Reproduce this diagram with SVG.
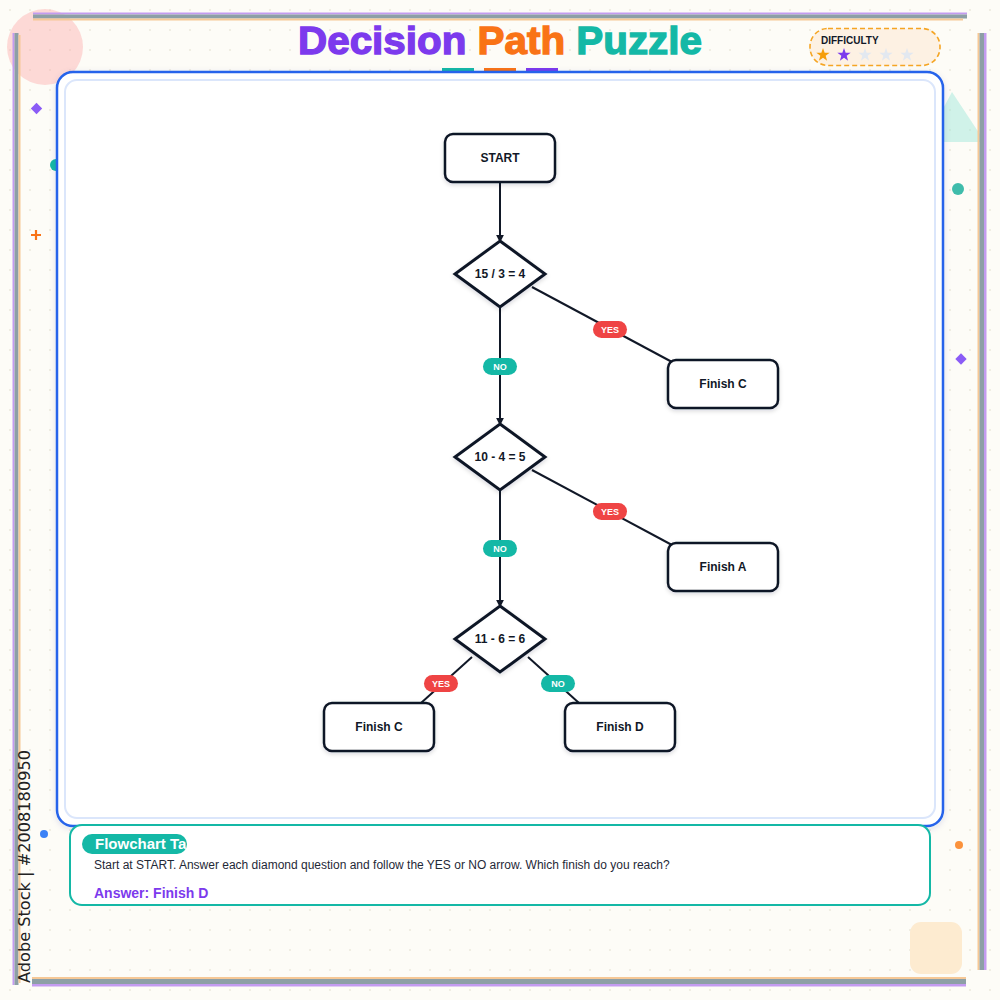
<svg xmlns="http://www.w3.org/2000/svg" width="1000" height="1000" viewBox="0 0 1000 1000">
  <defs>
    <pattern id="dots" width="20" height="20" patternUnits="userSpaceOnUse">
      <circle cx="10" cy="10" r="0.9" fill="#ebe7da"/>
    </pattern>
    <filter id="shadow" x="-20%" y="-20%" width="140%" height="150%">
      <feDropShadow dx="0" dy="2" stdDeviation="2" flood-color="#0f172a" flood-opacity="0.15"/>
    </filter>
    <filter id="panelShadow" x="-5%" y="-5%" width="110%" height="110%">
      <feDropShadow dx="0" dy="2" stdDeviation="3" flood-color="#1e3a8a" flood-opacity="0.12"/>
    </filter>
    <marker id="arrow" viewBox="0 0 10 10" refX="9" refY="5" markerWidth="4" markerHeight="4" orient="auto" markerUnits="strokeWidth">
      <path d="M0,0 L10,5 L0,10 Z" fill="#111827"/>
    </marker>
    <path id="star" d="M0,-7 L1.65,-2.27 L6.66,-2.16 L2.66,0.87 L4.11,5.66 L0,2.8 L-4.11,5.66 L-2.66,0.87 L-6.66,-2.16 L-1.65,-2.27 Z"/>
    <clipPath id="tabClip"><rect x="82" y="834" width="105" height="20" rx="10"/></clipPath>
    <style>
      .node rect, .node polygon { fill: #ffffff; stroke: #111827; }
      .box { stroke-width: 2.5; }
      .dia { stroke-width: 3; stroke-linejoin: miter; }
      .ntext { font-family: "Liberation Sans", Arial, sans-serif; font-weight: bold; font-size: 12px; fill: #111827; text-anchor: middle; dominant-baseline: central; }
      .conn line { stroke: #111827; stroke-width: 2; }
      .pill-text { font-family: "Liberation Sans", Arial, sans-serif; font-weight: bold; font-size: 9px; fill: #ffffff; text-anchor: middle; dominant-baseline: central; }
      .yes { fill: #ef4444; }
      .no { fill: #14b8a6; }
      .sans { font-family: "Liberation Sans", Arial, sans-serif; }
    </style>
  </defs>

  <!-- background -->
  <rect x="0" y="0" width="1000" height="1000" fill="#fdfcf7"/>
  <rect x="0" y="0" width="1000" height="1000" fill="url(#dots)"/>

  <!-- decorations -->
  <g id="decorations">
    <circle cx="45" cy="47" r="38" fill="#fca5a5" opacity="0.4"/>
    <polygon points="952,92 985,142 925,142" fill="#99e6d8" opacity="0.45"/>
    <rect x="32.5" y="104.5" width="8" height="8" fill="#8b5cf6" transform="rotate(45 36.5 108.5)"/>
    <circle cx="56" cy="165" r="6" fill="#14b8a6"/>
    <path d="M31,235 H41 M36,230 V240" stroke="#f97316" stroke-width="2.2"/>
    <circle cx="958" cy="189" r="6" fill="#2ab5a2" opacity="0.9"/>
    <rect x="957" y="355" width="8" height="8" fill="#8b5cf6" transform="rotate(45 961 359)"/>
    <circle cx="44" cy="834" r="4" fill="#3b82f6"/>
    <circle cx="959" cy="845" r="4" fill="#fb923c"/>
    <rect x="910" y="922" width="52" height="52" rx="11" fill="#fdebd0"/>
  </g>

  <!-- frame -->
  <g id="frame">
    <rect x="33" y="12.5" width="934" height="2" fill="#c39bf0"/>
    <rect x="33" y="14.5" width="934" height="4" fill="#8d9fa6"/>
    <rect x="33" y="18.5" width="930" height="2" fill="#f6c896"/>
    <rect x="12.5" y="33" width="2" height="952" fill="#c39bf0"/>
    <rect x="14.5" y="33" width="4" height="952" fill="#8d9fa6"/>
    <rect x="18.5" y="35" width="2" height="948" fill="#f6c896"/>
    <rect x="977.5" y="33" width="2" height="937" fill="#f6c896"/>
    <rect x="979.5" y="33" width="4.5" height="937" fill="#8d9fa6"/>
    <rect x="984" y="33" width="2.5" height="937" fill="#c39bf0"/>
    <rect x="32" y="977" width="934" height="2" fill="#f6c896"/>
    <rect x="32" y="979" width="934" height="5" fill="#8d9fa6"/>
    <rect x="32" y="984" width="934" height="2.5" fill="#c39bf0"/>
  </g>

  <!-- title -->
  <g id="title">
    <rect x="442" y="68" width="32" height="4" fill="#14b8a6"/>
    <rect x="484" y="68" width="32" height="4" fill="#f97316"/>
    <rect x="526" y="68" width="32" height="4" fill="#7c3aed"/>
    <text x="500" y="54" text-anchor="middle" class="sans" font-weight="bold" font-size="38" stroke-width="1.3" textLength="404" lengthAdjust="spacingAndGlyphs"><tspan fill="#7c3aed" stroke="#7c3aed">Decision</tspan> <tspan fill="#f97316" stroke="#f97316">Path</tspan> <tspan fill="#14b8a6" stroke="#14b8a6">Puzzle</tspan></text>
  </g>

  <!-- difficulty -->
  <g id="difficulty">
    <rect x="810" y="28.5" width="130" height="37" rx="18" fill="#fdf1e3" stroke="#f5a524" stroke-width="1.6" stroke-dasharray="5 3"/>
    <text x="821" y="44" class="sans" font-weight="bold" font-size="10" fill="#111827">DIFFICULTY</text>
    <use href="#star" x="823" y="55" fill="#f59e0b"/>
    <use href="#star" x="844" y="55" fill="#7c3aed"/>
    <use href="#star" x="865" y="55" fill="#e2e8f0"/>
    <use href="#star" x="886" y="55" fill="#e2e8f0"/>
    <use href="#star" x="907" y="55" fill="#e2e8f0"/>
  </g>

  <!-- main panel -->
  <g id="panel">
    <rect x="57" y="72" width="886" height="754" rx="16" fill="#ffffff" stroke="#2563eb" stroke-width="2.5" filter="url(#panelShadow)"/>
    <rect x="65" y="80" width="870" height="738" rx="12" fill="#ffffff" stroke="#dbe6fb" stroke-width="2"/>
  </g>

  <!-- connectors -->
  <g id="connectors" class="conn">
    <line x1="500" y1="183" x2="500" y2="242" marker-end="url(#arrow)"/>
    <line x1="532" y1="287" x2="672" y2="362"/>
    <line x1="500" y1="307" x2="500" y2="425" marker-end="url(#arrow)"/>
    <line x1="532" y1="470" x2="672" y2="545"/>
    <line x1="500" y1="490" x2="500" y2="607" marker-end="url(#arrow)"/>
    <line x1="472" y1="657" x2="421" y2="703"/>
    <line x1="528" y1="657" x2="579" y2="703"/>
  </g>

  <!-- nodes -->
  <g id="node-start" class="node">
    <rect class="box" x="445" y="134" width="110" height="48" rx="8" filter="url(#shadow)"/>
    <text class="ntext" x="500" y="158">START</text>
  </g>
  <g id="node-q1" class="node">
    <polygon class="dia" points="500,241 545,274 500,307 455,274" filter="url(#shadow)"/>
    <text class="ntext" x="500" y="274">15 / 3 = 4</text>
  </g>
  <g id="node-finish-c-1" class="node">
    <rect class="box" x="668" y="360" width="110" height="48" rx="8" filter="url(#shadow)"/>
    <text class="ntext" x="723" y="384">Finish C</text>
  </g>
  <g id="node-q2" class="node">
    <polygon class="dia" points="500,424 545,457 500,490 455,457" filter="url(#shadow)"/>
    <text class="ntext" x="500" y="457">10 - 4 = 5</text>
  </g>
  <g id="node-finish-a" class="node">
    <rect class="box" x="668" y="543" width="110" height="48" rx="8" filter="url(#shadow)"/>
    <text class="ntext" x="723" y="567">Finish A</text>
  </g>
  <g id="node-q3" class="node">
    <polygon class="dia" points="500,606 545,639 500,672 455,639" filter="url(#shadow)"/>
    <text class="ntext" x="500" y="639">11 - 6 = 6</text>
  </g>
  <g id="node-finish-c-2" class="node">
    <rect class="box" x="324" y="703" width="110" height="48" rx="8" filter="url(#shadow)"/>
    <text class="ntext" x="379" y="727">Finish C</text>
  </g>
  <g id="node-finish-d" class="node">
    <rect class="box" x="565" y="703" width="110" height="48" rx="8" filter="url(#shadow)"/>
    <text class="ntext" x="620" y="727">Finish D</text>
  </g>

  <!-- edge labels -->
  <g id="edge-labels">
    <rect class="yes" x="593" y="321" width="34" height="17" rx="8.5"/>
    <text class="pill-text" x="610" y="329.5">YES</text>
    <rect class="no" x="483" y="358" width="34" height="17" rx="8.5"/>
    <text class="pill-text" x="500" y="366.5">NO</text>
    <rect class="yes" x="593" y="503" width="34" height="17" rx="8.5"/>
    <text class="pill-text" x="610" y="511.5">YES</text>
    <rect class="no" x="483" y="540" width="34" height="17" rx="8.5"/>
    <text class="pill-text" x="500" y="548.5">NO</text>
    <rect class="yes" x="424" y="675" width="34" height="17" rx="8.5"/>
    <text class="pill-text" x="441" y="683.5">YES</text>
    <rect class="no" x="541" y="675" width="34" height="17" rx="8.5"/>
    <text class="pill-text" x="558" y="683.5">NO</text>
  </g>

  <!-- task box -->
  <g id="task">
    <rect x="70" y="825" width="860" height="80" rx="12" fill="#ffffff" stroke="#14b8a6" stroke-width="2"/>
    <rect x="82" y="834" width="105" height="20" rx="10" fill="#14b8a6"/>
    <text x="95" y="849" class="sans" font-weight="bold" font-size="15" fill="#ffffff" clip-path="url(#tabClip)">Flowchart Ta</text>
    <text x="94" y="869" class="sans" font-size="12" fill="#1f2937">Start at START. Answer each diamond question and follow the YES or NO arrow. Which finish do you reach?</text>
    <text x="94" y="898" class="sans" font-weight="bold" font-size="14" fill="#7c3aed">Answer: Finish D</text>
  </g>

  <!-- side label -->
  <text transform="translate(30,983) rotate(-90)" font-family="DejaVu Sans, sans-serif" font-size="16" fill="#222222" textLength="233" lengthAdjust="spacingAndGlyphs">Adobe Stock | #2008180950</text>
</svg>
